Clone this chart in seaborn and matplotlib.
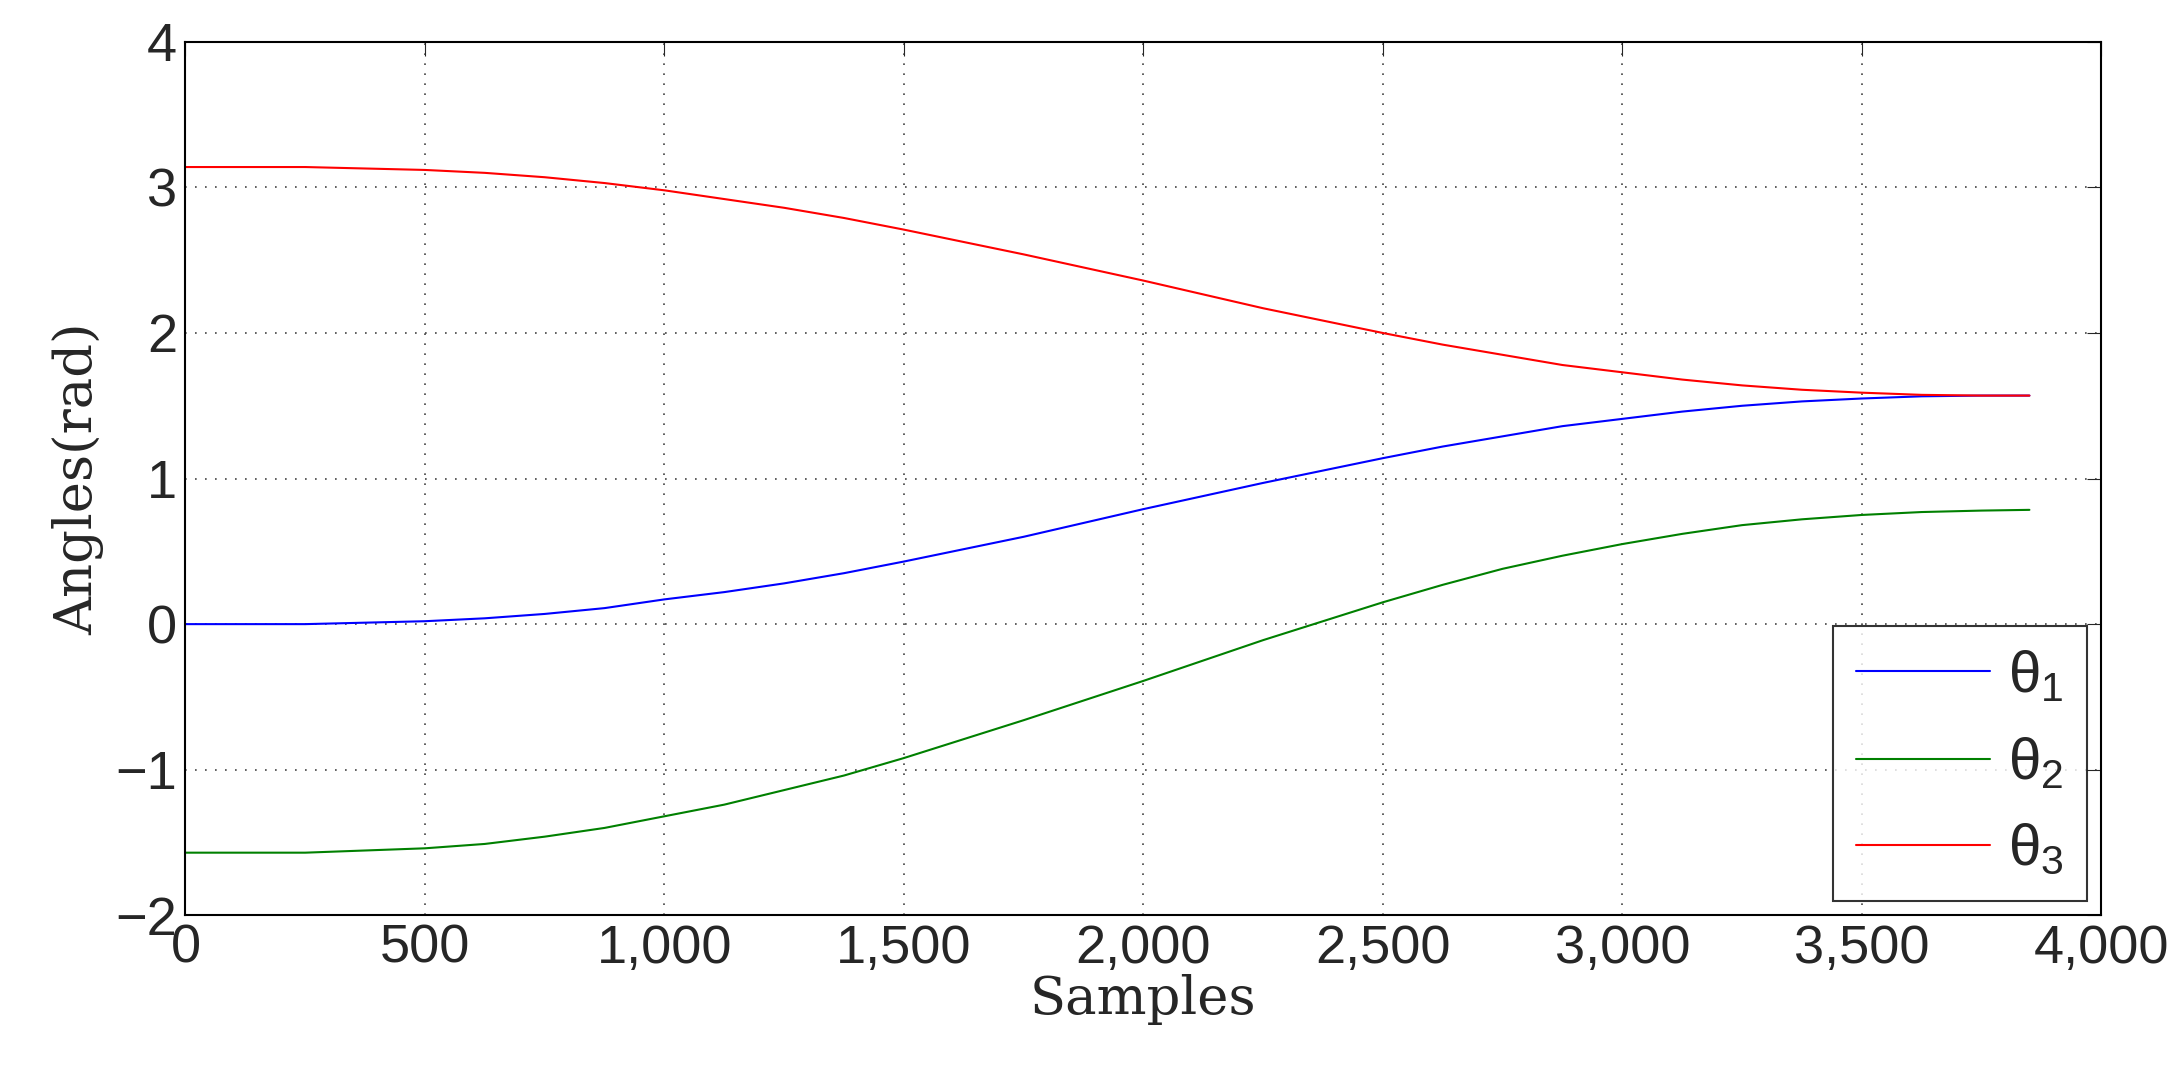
import matplotlib
matplotlib.use("Agg")
import matplotlib.pyplot as plt
import seaborn as sns
import pandas as pd
from matplotlib.ticker import FuncFormatter

samples = [0, 250, 500, 625, 750, 875, 1000, 1125, 1250, 1375, 1500, 1750, 2000, 2250, 2500, 2625, 2750, 2875, 3000, 3125, 3250, 3375, 3500, 3625, 3750, 3850]
theta1 = [0.0, 0.0, 0.02, 0.04, 0.07, 0.11, 0.17, 0.22, 0.28, 0.35, 0.43, 0.6, 0.79, 0.97, 1.14, 1.22, 1.29, 1.36, 1.41, 1.46, 1.5, 1.53, 1.55, 1.565, 1.57, 1.57]
theta2 = [-1.57, -1.57, -1.54, -1.51, -1.46, -1.40, -1.32, -1.24, -1.14, -1.04, -0.92, -0.66, -0.39, -0.11, 0.15, 0.27, 0.38, 0.47, 0.55, 0.62, 0.68, 0.72, 0.75, 0.77, 0.78, 0.785]
theta3 = [3.14, 3.14, 3.12, 3.10, 3.07, 3.03, 2.98, 2.92, 2.86, 2.79, 2.71, 2.54, 2.36, 2.17, 2.0, 1.92, 1.85, 1.78, 1.73, 1.68, 1.64, 1.61, 1.59, 1.575, 1.57, 1.57]
labels = [r"$\theta_1$", r"$\theta_2$", r"$\theta_3$"]
colors = ["#0000ff", "#008000", "#ff0000"]

sns.set_style("white")
plt.rcParams["font.family"] = ["Liberation Sans", "DejaVu Sans"]
plt.rcParams["mathtext.fontset"] = "custom"
plt.rcParams["mathtext.rm"] = "Liberation Sans"
plt.rcParams["mathtext.it"] = "Liberation Sans"

df = pd.concat([pd.DataFrame({"Samples": samples, "Angle": v, "s": l})
                for v, l in zip([theta1, theta2, theta3], labels)])

fig = plt.figure(figsize=(21.82, 10.73), dpi=100)
ax = fig.add_axes([0.085, 0.147, 0.878, 0.814])
sns.lineplot(data=df, x="Samples", y="Angle", hue="s", palette=colors, ax=ax, linewidth=1.5)
ax.set_xlim(0, 4000)
ax.set_ylim(-2, 4)
ax.set_xticks(range(0, 4001, 500))
ax.xaxis.set_major_formatter(FuncFormatter(lambda v, p: f"{int(v):,}"))
ax.set_yticks(range(-2, 5))
ax.yaxis.set_major_formatter(FuncFormatter(lambda v, p: f"{int(v)}".replace("-", "\u2212")))
ax.tick_params(labelsize=39, direction="in", length=10, top=True, right=True, pad=6)
ax.grid(True, linestyle=(0, (1, 5)), color="#444444", linewidth=1.2)
for s in ax.spines.values():
    s.set_color("black"); s.set_linewidth(1.5)
ax.set_xlabel("Samples", fontsize=38, family="DejaVu Serif", labelpad=0)
ax.set_ylabel("Angles(rad)", fontsize=38, family="DejaVu Serif", labelpad=8)
leg = ax.legend(title=None, loc="lower right", fontsize=42, frameon=True, fancybox=False,
                edgecolor="black", handlelength=2.3, borderaxespad=0.25, labelspacing=0.55,
                borderpad=0.4, handletextpad=0.3)
leg.get_frame().set_linewidth(1.5)
fig.savefig("out.png", dpi=100, facecolor="white")
